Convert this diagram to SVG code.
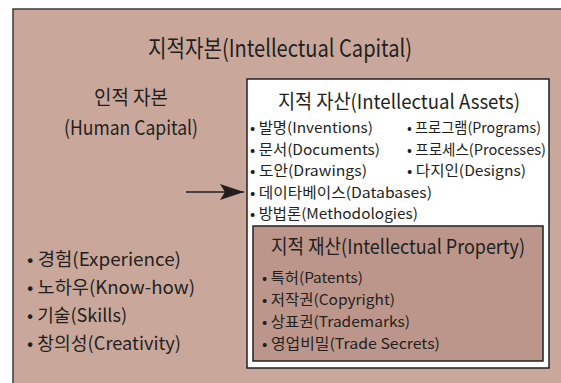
<svg xmlns="http://www.w3.org/2000/svg" width="561" height="383" viewBox="0 0 561 383">
<defs>
<style>
text{font-family:"Noto Sans CJK KR","Liberation Sans",sans-serif;fill:#231f20;}
.t1{font-size:24px;}
.t2{font-size:20px;}
.li{font-size:18px;}
.ls{font-size:14.5px;}
</style>
<marker id="ah" viewBox="0 0 24 16" refX="24" refY="8" markerWidth="24" markerHeight="16" markerUnits="userSpaceOnUse" orient="auto"><path d="M0,0 L24,8 L0,16 L5,8 z" fill="#231f20"/></marker>
</defs>
<rect x="0" y="0" width="561" height="383" fill="#ffffff"/>
<g id="capital">
<rect x="13" y="9" width="560" height="390" fill="#c9a89b" stroke="#3a3a3a" stroke-width="1.5"/>
<text class="t1" x="148" y="57" textLength="264" lengthAdjust="spacingAndGlyphs">지적자본(Intellectual Capital)</text>
</g>
<g id="human">
<text class="t2" x="94" y="105" textLength="74" lengthAdjust="spacingAndGlyphs">인적 자본</text>
<text class="t2" x="64" y="135" textLength="134" lengthAdjust="spacingAndGlyphs">(Human Capital)</text>
<text class="li" x="27" y="266" textLength="154" lengthAdjust="spacingAndGlyphs">• 경험(Experience)</text>
<text class="li" x="27" y="294" textLength="168" lengthAdjust="spacingAndGlyphs">• 노하우(Know-how)</text>
<text class="li" x="27" y="322" textLength="100" lengthAdjust="spacingAndGlyphs">• 기술(Skills)</text>
<text class="li" x="27" y="350" textLength="154" lengthAdjust="spacingAndGlyphs">• 창의성(Creativity)</text>
</g>
<g id="assets">
<rect x="247" y="79" width="302" height="289" fill="#ffffff" stroke="#231f20" stroke-width="1.5"/>
<text class="t2" x="278" y="109" textLength="242" lengthAdjust="spacingAndGlyphs">지적 자산(Intellectual Assets)</text>
<text class="ls" x="250" y="133" textLength="123" lengthAdjust="spacingAndGlyphs">• 발명(Inventions)</text>
<text class="ls" x="250" y="155" textLength="130" lengthAdjust="spacingAndGlyphs">• 문서(Documents)</text>
<text class="ls" x="250" y="176" textLength="117" lengthAdjust="spacingAndGlyphs">• 도안(Drawings)</text>
<text class="ls" x="250" y="198" textLength="182" lengthAdjust="spacingAndGlyphs">• 데이타베이스(Databases)</text>
<text class="ls" x="250" y="219" textLength="168" lengthAdjust="spacingAndGlyphs">• 방법론(Methodologies)</text>
<text class="ls" x="407" y="133" textLength="134" lengthAdjust="spacingAndGlyphs">• 프로그램(Programs)</text>
<text class="ls" x="407" y="155" textLength="139" lengthAdjust="spacingAndGlyphs">• 프로세스(Processes)</text>
<text class="ls" x="407" y="176" textLength="119" lengthAdjust="spacingAndGlyphs">• 다지인(Designs)</text>
</g>
<g id="property">
<rect x="253" y="226" width="290" height="135" fill="#bc968a" stroke="#231f20" stroke-width="1.5"/>
<text class="t2" x="271" y="254" textLength="254" lengthAdjust="spacingAndGlyphs">지적 재산(Intellectual Property)</text>
<text class="ls" x="262" y="283" textLength="101" lengthAdjust="spacingAndGlyphs">• 특허(Patents)</text>
<text class="ls" x="262" y="305" textLength="133" lengthAdjust="spacingAndGlyphs">• 저작권(Copyright)</text>
<text class="ls" x="262" y="327" textLength="148" lengthAdjust="spacingAndGlyphs">• 상표권(Trademarks)</text>
<text class="ls" x="262" y="349" textLength="178" lengthAdjust="spacingAndGlyphs">• 영업비밀(Trade Secrets)</text>
</g>
<g id="connectors">
<line x1="186" y1="192" x2="244" y2="192" stroke="#231f20" stroke-width="1.3" marker-end="url(#ah)"/>
</g>
</svg>
